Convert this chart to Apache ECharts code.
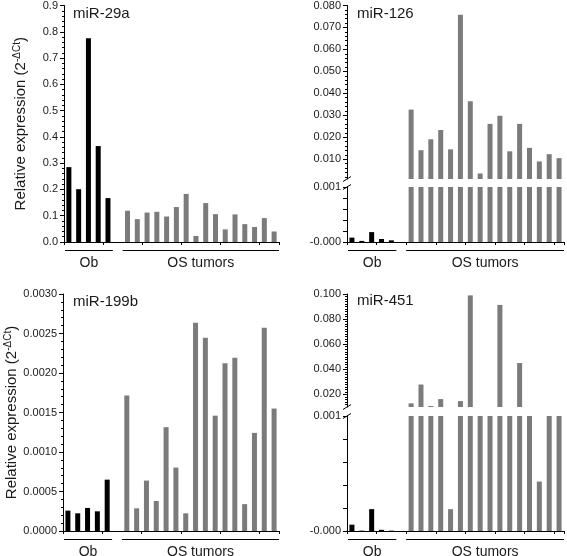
<!DOCTYPE html>
<html><head><meta charset="utf-8">
<script src="https://cdn.jsdelivr.net/npm/echarts@6/dist/echarts.min.js"></script>
<style>html,body{margin:0;padding:0;background:#fff}#c{width:567px;height:556px}</style>
</head><body><div id="c"></div>
<script>
// ---------- data ----------
const categories = ['Ob1','Ob2','Ob3','Ob4','Ob5','gap','T1','T2','T3','T4','T5','T6','T7','T8','T9','T10','T11','T12','T13','T14','T15','T16'];
const groupLabels = ['Ob', 'OS tumors'];
const titles = ['miR-29a', 'miR-126', 'miR-199b', 'miR-451'];
const yName = 'Relative expression (2';
const ySup = '-ΔCt';

const mir29aOb = [0.285, 0.201, 0.775, 0.365, 0.167];
const mir29aOS = [0.119, 0.087, 0.112, 0.115, 0.097, 0.133, 0.183, 0.023, 0.148, 0.106, 0.048, 0.105, 0.068, 0.057, 0.091, 0.040];

const mir126Ob = [0.00008, 0.00002, 0.00018, 0.000055, 0.00003];
const mir126OS = [0.0326, 0.0141, 0.0191, 0.0233, 0.0145, 0.0758, 0.0364, 0.0035, 0.0261, 0.0298, 0.0136, 0.0261, 0.0152, 0.0090, 0.0123, 0.0105];

const mir199bOb = [0.000258, 0.000224, 0.000292, 0.000249, 0.00065];
const mir199bOS = [0.001715, 0.000287, 0.000638, 0.00038, 0.001314, 0.000803, 0.000224, 0.002636, 0.002446, 0.00146, 0.002125, 0.002193, 0.00034, 0.001242, 0.002573, 0.00155];

const mir451Ob = [0.000055, 0.000003, 0.00019, 0.00001, 0.000003];
const mir451OS = [0.0129, 0.0279, 0.0108, 0.0163, 0.00019, 0.0147, 0.0989, 0.006, 0.006, 0.0913, 0.006, 0.045, 0.006, 0.00043, 0.006, 0.006];

// axis tick values
const ticks29a = [0, 0.9, 0.1];
const ticks199b = [0, 0.003, 0.0005];
const ticks126Upper = [0.01, 0.02, 0.03, 0.04, 0.05, 0.06, 0.07, 0.08];
const ticks451Upper = [0.02, 0.04, 0.06, 0.08, 0.10];
const ticksLower = [0, 0.0002, 0.0004, 0.0006, 0.0008, 0.001];
const labelsLower = [0, 0.001];

// ---------- layout / style ----------
const FONT = '"Liberation Sans", Arial, sans-serif';
const GRAY = '#7b7b7b';
const TXT = '#1a1a1a';
const grids = [
  {left: 64, top: 5, width: 215, height: 237},
  {left: 347, top: 5, width: 217, height: 174},
  {left: 347, top: 187, width: 217, height: 55},
  {left: 63, top: 294, width: 216, height: 237},
  {left: 347, top: 294, width: 217, height: 113},
  {left: 347, top: 416, width: 217, height: 115}
];
const upper = [false, true, false, false, true, false];

function build(ob, os) { return ob.concat([null], os); }
function minorList(lo, hi, step, majors) {
  const out = [];
  const n = Math.round((hi - lo) / step);
  for (let i = 0; i <= n; i++) {
    const v = +(lo + i * step).toFixed(6);
    if (!majors.some(m => Math.abs(m - v) < 1e-9)) out.push(v);
  }
  return out;
}

const seriesData = [
  build(mir29aOb, mir29aOS),
  build(mir126Ob, mir126OS),
  build(mir126Ob, mir126OS),
  build(mir199bOb, mir199bOS),
  build(mir451Ob, mir451OS),
  build(mir451Ob, mir451OS)
];

const lineStyle = {color: '#000', width: 1};
const labelStyle = {color: TXT, fontSize: 11, fontFamily: FONT, margin: 6};
const nameRich = {
  n: {fontSize: 15, fontFamily: FONT, color: TXT, lineHeight: 18},
  s: {fontSize: 10, fontFamily: FONT, color: TXT, verticalAlign: 'top', lineHeight: 10}
};
const nameStr = '{n|' + yName + '}{s|' + ySup + '}{n|)}';

const xAxes = grids.map((g, i) => ({
  type: 'category', gridIndex: i, data: categories, show: !upper[i],
  boundaryGap: true,
  axisLine: {show: true, lineStyle},
  axisTick: {show: true, length: 3, lineStyle},
  axisLabel: {show: false},
  splitLine: {show: false}
}));

function baseY(i, extra) {
  return Object.assign({
    type: 'value', gridIndex: i, position: 'left',
    axisLine: {show: true, lineStyle},
    axisTick: {show: true, length: 4, lineStyle},
    axisLabel: Object.assign({}, labelStyle),
    splitLine: {show: false}
  }, extra);
}

const nameOpts = {name: nameStr, nameLocation: 'middle', nameGap: 34, nameTextStyle: {rich: nameRich}};

const yAxes = [
  baseY(0, Object.assign({min: ticks29a[0], max: ticks29a[1], interval: ticks29a[2],
    axisLabel: Object.assign({}, labelStyle, {formatter: v => v.toFixed(1)}),
    minorTick: {show: true, splitNumber: 5, length: 2, lineStyle}}, nameOpts)),
  baseY(1, {min: 0.001, max: 0.08,
    axisLabel: Object.assign({}, labelStyle, {customValues: ticks126Upper, formatter: v => v.toFixed(3)}),
    axisTick: {show: true, length: 4, lineStyle, customValues: ticks126Upper}}),
  baseY(2, {min: 0, max: 0.001,
    axisLabel: Object.assign({}, labelStyle, {customValues: labelsLower, formatter: v => v < 1e-9 ? '-0.000' : '0.001'}),
    axisTick: {show: true, length: 4, lineStyle, customValues: ticksLower}}),
  baseY(3, Object.assign({min: ticks199b[0], max: ticks199b[1], interval: ticks199b[2],
    axisLabel: Object.assign({}, labelStyle, {formatter: v => v.toFixed(4)}),
    minorTick: {show: true, splitNumber: 5, length: 2, lineStyle}}, nameOpts)),
  baseY(4, {min: 0.01, max: 0.1,
    axisLabel: Object.assign({}, labelStyle, {customValues: ticks451Upper, formatter: v => v.toFixed(3)}),
    axisTick: {show: true, length: 4, lineStyle, customValues: ticks451Upper}}),
  baseY(5, {min: 0, max: 0.001,
    axisLabel: Object.assign({}, labelStyle, {customValues: labelsLower, formatter: v => v < 1e-9 ? '-0.000' : '0.001'}),
    axisTick: {show: true, length: 4, lineStyle, customValues: ticksLower}}),
  // minor tick overlays for the upper broken segments
  baseY(1, {min: 0.001, max: 0.08, axisLine: {show: false}, axisLabel: {show: false},
    axisTick: {show: true, length: 2, lineStyle, customValues: minorList(0.002, 0.078, 0.002, ticks126Upper)}}),
  baseY(4, {min: 0.01, max: 0.1, axisLine: {show: false}, axisLabel: {show: false},
    axisTick: {show: true, length: 2, lineStyle, customValues: minorList(0.012, 0.098, 0.002, ticks451Upper)}})
];

const series = seriesData.map((d, i) => ({
  type: 'bar', xAxisIndex: i, yAxisIndex: i, data: d, barWidth: 5, clip: true,
  itemStyle: {color: p => p.dataIndex < 5 ? '#000' : GRAY},
  animation: false, silent: true
}));

const titlePos = [[73, 6], [357, 6], [73, 294], [357, 293]];
const title = titles.map((t, i) => ({
  text: t, left: titlePos[i][0], top: titlePos[i][1], padding: 0,
  textStyle: {fontSize: 15, fontWeight: 'normal', fontFamily: FONT, color: TXT}
}));

const chart = echarts.init(document.getElementById('c'));
chart.setOption({
  animation: false, backgroundColor: '#fff',
  title, grid: grids, xAxis: xAxes, yAxis: yAxes, series
});

// ---------- group brackets, labels, axis breaks ----------
const graphic = [];
[0, 2, 3, 5].forEach(gi => {
  const g = grids[gi];
  const axisY = g.top + g.height;
  const c0 = chart.convertToPixel({xAxisIndex: gi}, 0);
  const c1 = chart.convertToPixel({xAxisIndex: gi}, 1);
  const slot = c1 - c0;
  const ranges = [[0, 4], [6, categories.length - 1]];
  ranges.forEach((r, k) => {
    const xa = chart.convertToPixel({xAxisIndex: gi}, r[0]) - slot / 2 + (k === 0 ? 1 : 0);
    const xb = chart.convertToPixel({xAxisIndex: gi}, r[1]) + slot / 2;
    const by = Math.round(axisY + 8) + 0.5;
    graphic.push({type: 'line', silent: true, shape: {x1: xa, y1: by, x2: xb, y2: by}, style: {stroke: '#000', lineWidth: 1}});
    graphic.push({type: 'text', silent: true, style: {
      text: groupLabels[k], x: (xa + xb) / 2, y: axisY + 21,
      align: 'center', verticalAlign: 'middle', textAlign: 'center', textVerticalAlign: 'middle',
      fontSize: 14, fontFamily: FONT, fill: TXT}});
  });
});
[[1, 2], [4, 5]].forEach(pair => {
  const gu = grids[pair[0]], gl = grids[pair[1]];
  const x = gu.left;
  [gu.top + gu.height, gl.top].forEach(y => {
    graphic.push({type: 'line', silent: true, shape: {x1: x - 4, y1: y + 2.5, x2: x + 4, y2: y - 2.5}, style: {stroke: '#000', lineWidth: 1}});
  });
});
chart.setOption({graphic});
</script>
</body></html>
